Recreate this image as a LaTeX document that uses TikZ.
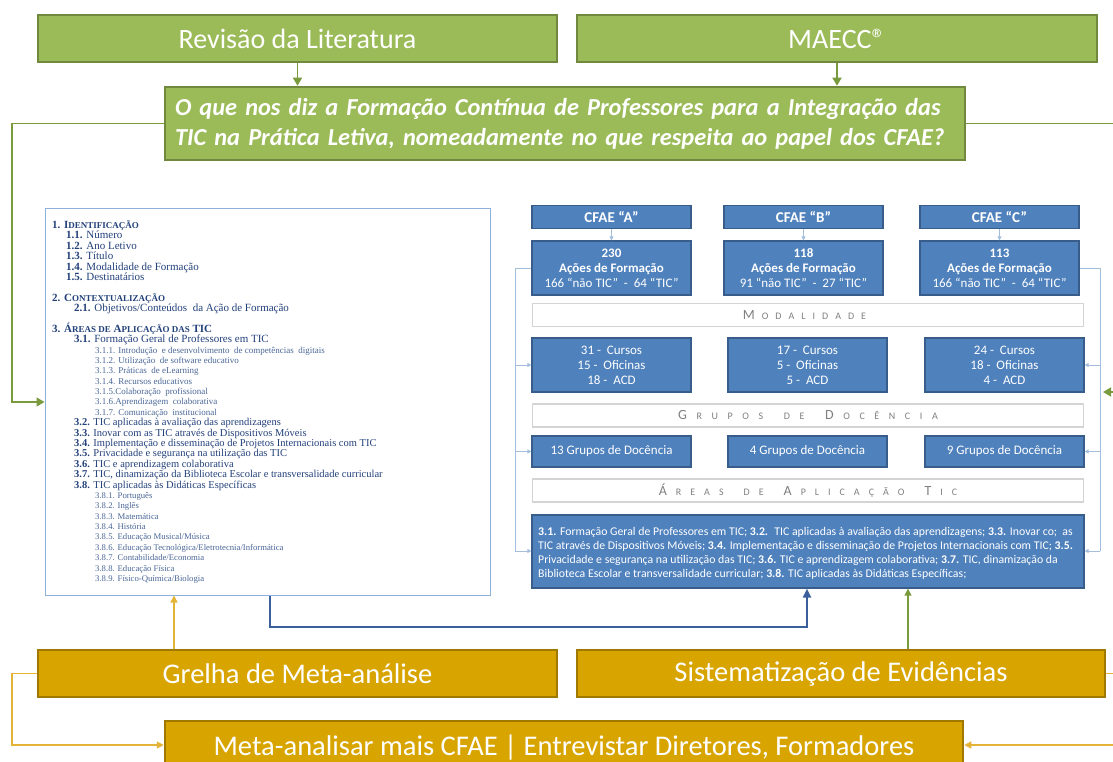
\documentclass[tikz,border=0pt]{standalone}
\usepackage{fontspec}
\setmainfont{Carlito}
\newfontfamily\serif{Liberation Serif}
\usetikzlibrary{arrows.meta}
\definecolor{gfill}{HTML}{9BBB59}
\definecolor{gdraw}{HTML}{71893F}
\definecolor{ofill}{HTML}{D8A400}
\definecolor{odraw}{HTML}{A07A00}
\definecolor{bfill}{HTML}{4F81BD}
\definecolor{bdraw}{HTML}{385D8A}
\definecolor{lblue}{HTML}{A3BEDD}
\definecolor{navy}{HTML}{3A5F9B}
\definecolor{oline}{HTML}{E3B437}
\definecolor{gline}{HTML}{7A9A3E}
\definecolor{bartext}{HTML}{808080}
\definecolor{barline}{HTML}{D4D4D4}
\definecolor{txt}{HTML}{22407A}
\definecolor{txtb}{HTML}{4A6797}
\definecolor{lboxline}{HTML}{8EAFD9}
\newcommand\fsc[1]{{\fontsize{9}{9}\selectfont #1}}
\newlength\lskip \setlength\lskip{7pt}
\newcommand\lsx[1]{\ifx\relax#1\else#1\kern\lskip\expandafter\lsx\fi}
\newcommand\ls[1]{\lsx#1\relax}
\newcommand\capl[1]{{\fontsize{14}{14}\selectfont #1}\kern\lskip}
\newcommand\LT[5]{\node[#2] (#1) at (#3,{228.5+#4*10.38}) {#5};}
\tikzset{
  gbox/.style={draw=gdraw, fill=gfill, line width=2.5pt, text=white, inner sep=0pt, font=\fontsize{28}{32}\selectfont},
  obox/.style={draw=odraw, fill=ofill, line width=2.5pt, text=white, inner sep=0pt, font=\fontsize{28.5}{32}\selectfont},
  bbox/.style={draw=bdraw, fill=bfill, line width=1.2pt, text=white, inner sep=0pt, align=center, font=\fontsize{13}{15}\selectfont},
  bar/.style={draw=barline, fill=white, line width=1.5pt, text=bartext, inner sep=0pt, minimum width=551pt, minimum height=23pt, font=\fontsize{10}{10}\selectfont},
  la/.style={anchor=base west, inner sep=0pt, text=txt, font=\serif\fontsize{11}{11}\selectfont},
  lb/.style={anchor=base west, inner sep=0pt, text=txt, font=\serif\fontsize{10.5}{11}\selectfont},
  lc/.style={anchor=base west, inner sep=0pt, text=txtb, font=\serif\fontsize{9}{10}\selectfont},
  ld/.style={anchor=base west, inner sep=0pt, text=txtb, font=\serif\fontsize{8.7}{10}\selectfont},
  garrow/.style={draw=gline, line width=1.5pt, -{Triangle[width=9pt,length=8pt]}},
  oarrow/.style={draw=oline, line width=1.5pt, -{Triangle[width=7pt,length=7pt]}},
  narrow/.style={draw=navy, line width=2pt, -{Triangle[width=8pt,length=9pt]}},
  larrow/.style={draw=lblue, line width=1pt, -{Triangle[width=4pt,length=4pt]}},
  lline/.style={draw=lblue, line width=1pt},
}
\begin{document}
\begin{tikzpicture}[x=1pt,y=-1pt]
\useasboundingbox (0,0) rectangle (1113,762);
% top boxes
\node[gbox, minimum width=519pt, minimum height=47pt] (rev) at (297.5,38.5) {Revisão da Literatura};
\node[gbox, minimum width=520pt, minimum height=47pt] (mae) at (837,38.5) {MAECC®};
\node[gbox, minimum width=800pt, minimum height=73pt, text width=780pt, inner xsep=10pt, align=left,
      font=\bfseries\itshape\fontsize{24.4}{30}\selectfont] (q) at (565,123.5)
  {O que nos diz a Formação Contínua de Professores para a Integração das\\TIC na Prática Letiva, nomeadamente no que respeita ao papel dos CFAE?};
\draw[garrow] (rev.south) -- (rev.south |- q.north);
\draw[garrow] (mae.south) -- (mae.south |- q.north);
% left box
\node[draw=lboxline, line width=1pt, fill=white, minimum width=445pt, minimum height=387pt, inner sep=0pt] (lbox) at (267.5,401.5) {};
\LT{t1}{la}{52}{0}{\textbf{1. I\fsc{DENTIFICAÇÃO}}}
\LT{t2}{la}{66}{1}{\textbf{1.1.} Número}
\LT{t3}{la}{66}{2}{\textbf{1.2.} Ano Letivo}
\LT{t4}{la}{66}{3}{\textbf{1.3.} Título}
\LT{t5}{la}{66}{4}{\textbf{1.4.} Modalidade  de Formação}
\LT{t6}{la}{66}{5}{\textbf{1.5.} Destinatários}
\LT{t7}{la}{52}{7}{\textbf{2. C\fsc{ONTEXTUALIZAÇÃO}}}
\LT{t8}{la}{74}{8}{\textbf{2.1.} Objetivos/Conteúdos \ da Ação de Formação}
\LT{t9}{la}{52}{10}{\textbf{3. Á\fsc{REAS DE} A\fsc{PLICAÇÃO DAS} TIC}}
\LT{t10}{la}{74}{11}{\textbf{3.1.} Formação Geral de Professores em TIC}
\LT{t11}{lc}{95}{12}{3.1.1. Introdução \ e desenvolvimento \ de competências \ digitais}
\LT{t12}{lc}{95}{13}{3.1.2. Utilização \ de software educativo}
\LT{t13}{lc}{95}{14}{3.1.3. Práticas \ de eLearning}
\LT{t14}{lc}{95}{15}{3.1.4. Recursos educativos}
\LT{t15}{lc}{95}{16}{3.1.5.Colaboração \ profissional}
\LT{t16}{lc}{95}{17}{3.1.6.Aprendizagem \ colaborativa}
\LT{t17}{lc}{95}{18}{3.1.7. Comunicação \ institucional}
\LT{t18}{lb}{74}{19}{\textbf{3.2.} TIC aplicadas à avaliação das aprendizagens}
\LT{t19}{lb}{74}{20}{\textbf{3.3.} Inovar com as TIC através de Dispositivos Móveis}
\LT{t20}{lb}{74}{21}{\textbf{3.4.} Implementação e disseminação de Projetos Internacionais com TIC}
\LT{t21}{lb}{74}{22}{\textbf{3.5.} Privacidade e segurança na utilização das TIC}
\LT{t22}{lb}{74}{23}{\textbf{3.6.} TIC e aprendizagem colaborativa}
\LT{t23}{lb}{74}{24}{\textbf{3.7.} TIC, dinamização da Biblioteca Escolar e transversalidade curricular}
\LT{t24}{lb}{74}{25}{\textbf{3.8.} TIC aplicadas às Didáticas Específicas}
\LT{t25}{ld}{95}{26}{3.8.1. Português}
\LT{t26}{ld}{95}{27}{3.8.2. Inglês}
\LT{t27}{ld}{95}{28}{3.8.3. Matemática}
\LT{t28}{ld}{95}{29}{3.8.4. História}
\LT{t29}{ld}{95}{30}{3.8.5. Educação Musical/Música}
\LT{t30}{ld}{95}{31}{3.8.6. Educação Tecnológica/Eletrotecnia/Informática}
\LT{t31}{ld}{95}{32}{3.8.7. Contabilidade/Economia}
\LT{t32}{ld}{95}{33}{3.8.8. Educação Física}
\LT{t33}{ld}{95}{34}{3.8.9. Físico-Química/Biologia}
% right panel
\node[bbox, font=\bfseries\fontsize{15}{15}\selectfont, minimum width=159pt, minimum height=23pt] (hA) at (611.5,217) {CFAE “A”};
\node[bbox, font=\bfseries\fontsize{15}{15}\selectfont, minimum width=159pt, minimum height=23pt] (hB) at (803.5,217) {CFAE “B”};
\node[bbox, font=\bfseries\fontsize{15}{15}\selectfont, minimum width=159pt, minimum height=23pt] (hC) at (999.5,217) {CFAE “C”};
\node[bbox, minimum width=159pt, minimum height=54pt] (cA) at (611.5,268) {\textbf{230}\\\textbf{Ações de Formação}\\166 “não TIC” \ - \ 64 “TIC”};
\node[bbox, minimum width=159pt, minimum height=54pt] (cB) at (803.5,268) {\textbf{118}\\\textbf{Ações de Formação}\\91 “não TIC” \ - \ 27 “TIC”};
\node[bbox, minimum width=159pt, minimum height=54pt] (cC) at (999.5,268) {\textbf{113}\\\textbf{Ações de Formação}\\166 “não TIC” \ - \ 64 “TIC”};
\draw[larrow] (hA) -- (cA);
\draw[larrow] (hB) -- (cB);
\draw[larrow] (hC) -- (cC);
\node[bar] (bm) at (808,315) {\capl{M}\ls{ODALIDADE}};
\node[bbox, minimum width=159pt, minimum height=54pt] (mA) at (611.5,365) {31 - \ Cursos\\15 - \ Oficinas\\18 - \ ACD};
\node[bbox, minimum width=159pt, minimum height=54pt] (mB) at (807.5,365) {17 - \ Cursos\\5 - \ Oficinas\\5 - \ ACD};
\node[bbox, minimum width=159pt, minimum height=54pt] (mC) at (1004.5,365) {24 - \ Cursos\\18 - \ Oficinas\\4 - \ ACD};
\node[bar] (bg) at (808,415.5) {\setlength\lskip{9.6pt}\capl{G}\ls{RUPOS}\kern11pt\ls{DE}\kern11pt\capl{D}\ls{OCÊNCIA}\kern-9.6pt};
\node[bbox, minimum width=159pt, minimum height=31pt] (gA) at (611.5,451.5) {13 Grupos de Docência};
\node[bbox, minimum width=159pt, minimum height=31pt] (gB) at (807.5,451.5) {4 Grupos de Docência};
\node[bbox, minimum width=159pt, minimum height=31pt] (gC) at (1004.5,451.5) {9 Grupos de Docência};
\node[bar] (ba) at (808,490.5) {\setlength\lskip{9pt}\capl{Á}\ls{REAS}\kern11pt\ls{DE}\kern11pt\capl{A}\ls{PLICAÇÃO}\kern11pt\capl{T}\ls{IC}\kern-9pt};
\node[bbox, minimum width=552pt, minimum height=73pt] (big) at (808,551.5) {};
\node[anchor=west, inner sep=0pt, text=white, align=left, font=\fontsize{11.8}{14}\selectfont] (bigt) at (538,553)
 {\textbf{3.1.} Formação Geral de Professores em TIC; \textbf{3.2.} \ TIC aplicadas à avaliação das aprendizagens; \textbf{3.3.} Inovar co; \ as\\
  TIC através de Dispositivos Móveis; \textbf{3.4.} Implementação e disseminação de Projetos Internacionais com TIC; \textbf{3.5.}\\
  Privacidade e segurança na utilização das TIC; \textbf{3.6.} TIC e aprendizagem colaborativa; \textbf{3.7.} TIC, dinamização da\\
  Biblioteca Escolar e transversalidade curricular; \textbf{3.8.} TIC aplicadas às Didáticas Específicas;};
% light blue side connectors
\coordinate (L0) at (515,268); \coordinate (L1) at (515,365); \coordinate (L2) at (515,451.5); \coordinate (L3) at (515,551);
\coordinate (R0) at (1100,268); \coordinate (R1) at (1100,365); \coordinate (R2) at (1100,451.5); \coordinate (R3) at (1100,551);
\draw[lline] (cA.west) -- (L0) -- (L3);
\draw[larrow] (L1) -- (mA.west);
\draw[larrow] (L2) -- (gA.west);
\draw[larrow] (L3) -- (big.west |- L3);
\draw[lline] (cC.east) -- (R0) -- (R3);
\draw[larrow] (R1) -- (mC.east);
\draw[larrow] (R2) -- (gC.east);
\draw[larrow] (R3) -- (big.east |- R3);
% green side connectors
\coordinate (gl1) at (12,123.5); \coordinate (gl2) at (12,402);
\draw[garrow] (q.west) -- (gl1) -- (gl2) -- (lbox.west |- gl2);
\coordinate (gr1) at (1125,123.5); \coordinate (gr2) at (1125,392); \coordinate (rin) at (1103,392);
\draw[garrow] (q.east) -- (gr1) -- (gr2) -- (rin);
% bottom boxes
\node[obox, minimum width=519pt, minimum height=47pt] (gre) at (297.5,673.5) {Grelha de Meta-análise};
\node[obox, minimum width=528pt, minimum height=47pt] (sis) at (841,673.5) {Sistematização de Evidências};
\node[obox, minimum width=798pt, minimum height=54pt] (bot) at (564,748) {Meta-analisar mais CFAE | Entrevistar Diretores, Formadores};
\coordinate (n1) at (270,627);
\draw[narrow] (lbox.south -| n1) -- (n1) -| (big.south -| 807,0);
\draw[oarrow] (gre.north -| 174,0) -- (lbox.south -| 174,0);
\draw[garrow, line width=1.2pt, -{Triangle[width=7pt,length=7pt]}] (sis.north -| 908,0) -- (big.south -| 908,0);
\coordinate (ol1) at (12,673.5); \coordinate (ol2) at (12,745);
\draw[oarrow] (gre.west) -- (ol1) -- (ol2) -- (bot.west |- ol2);
\coordinate (or1) at (1125,673.5); \coordinate (or2) at (1125,745);
\draw[oarrow] (sis.east) -- (or1) -- (or2) -- (bot.east |- or2);
\end{tikzpicture}
\end{document}
